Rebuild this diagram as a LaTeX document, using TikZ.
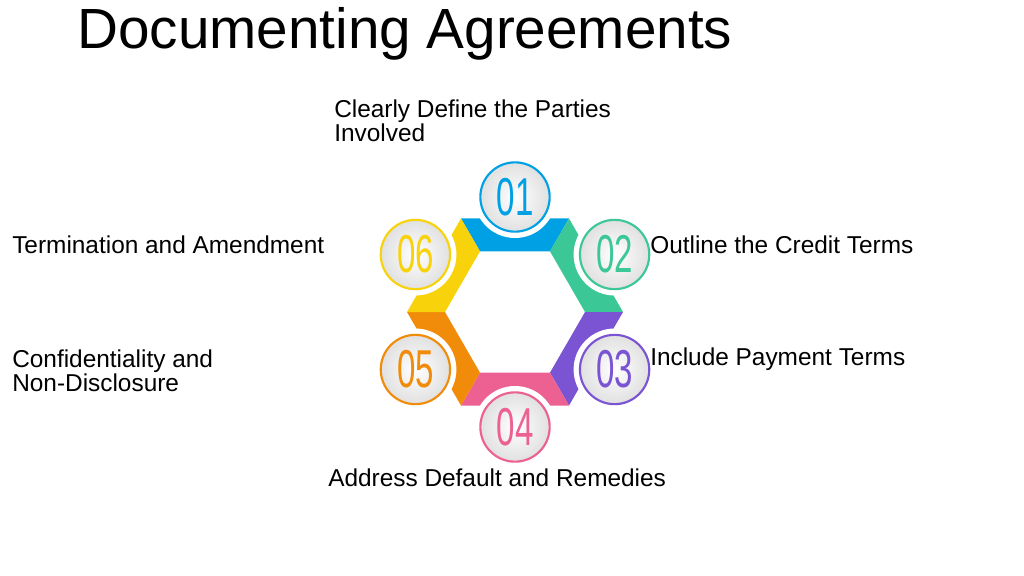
\documentclass[tikz,border=0pt]{standalone}
\usepackage{fontspec}
\setmainfont{Liberation Sans}
\usetikzlibrary{positioning,calc}
\definecolor{cOne}{RGB}{0,160,228}
\definecolor{cTwo}{RGB}{60,200,150}
\definecolor{cThree}{RGB}{122,84,210}
\definecolor{cFour}{RGB}{236,96,146}
\definecolor{cFive}{RGB}{240,140,10}
\definecolor{cSix}{RGB}{248,210,10}
\tikzset{
  label/.style={anchor=north west, align=left, font=\fontsize{18.3}{18}\selectfont, inner sep=0pt},
  badge/.style={circle, draw=#1, line width=1.6pt, minimum size=52pt, inner color=white, outer color=black!12},
  digits/.style={text=#1, font=\fontsize{40}{40}\selectfont, xscale=0.62, transform shape}
}
\begin{document}
\begin{tikzpicture}[x=0.75pt,y=-0.75pt]
  \useasboundingbox (0,0) rectangle (1024,575);
  \node[anchor=west, font=\fontsize{42.5}{44}\selectfont, inner sep=0pt] (title) at (77,34) {Documenting Agreements};
  \coordinate (c) at (515,312);
  % hexagon faces
  \foreach \a/\col in {90/cOne,30/cTwo,-30/cThree,-90/cFour,-150/cFive,150/cSix}{
    \fill[\col] ($(c)+(\a-30:70 and -70)$) -- ($(c)+(\a-30:108 and -108)$)
      -- ($(c)+(\a+30:108 and -108)$) -- ($(c)+(\a+30:70 and -70)$) -- cycle;
  }
  % badges
  \foreach \a/\col/\n in {90/cOne/01,30/cTwo/02,-30/cThree/03,-90/cFour/04,-150/cFive/05,150/cSix/06}{
    \fill[white] ($(c)+(\a:115 and -115)$) circle (41);
    \node[badge=\col] (b\n) at ($(c)+(\a:115 and -115)$) {};
    \node[digits=\col] at (b\n) {\n};
  }
  \node[label] (t1) at (334,100) {Clearly Define the Parties\\Involved};
  \node[label] (t2) at (650,236) {Outline the Credit Terms};
  \node[label] (t3) at (650,348) {Include Payment Terms};
  \node[label] (t4) at (328,469) {Address Default and Remedies};
  \node[label] (t5) at (12,350) {Confidentiality and\\Non-Disclosure};
  \node[label] (t6) at (12,236) {Termination and Amendment};
\end{tikzpicture}
\end{document}
